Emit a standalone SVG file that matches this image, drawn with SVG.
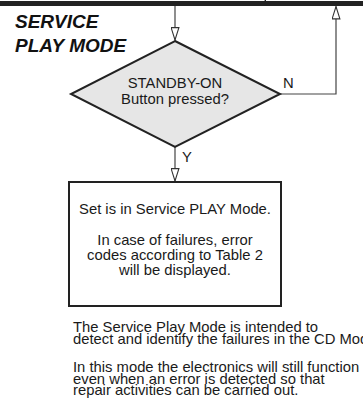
<svg xmlns="http://www.w3.org/2000/svg" width="363" height="415" viewBox="0 0 363 415">
  <style>
    .txt { font-family: "Liberation Sans", Arial, Helvetica, sans-serif; font-size: 14.8px; fill: #1a1a1a; }
    .mid { text-anchor: middle; }
    .title { font-family: "Liberation Sans", Arial, Helvetica, sans-serif; font-size: 19px; font-weight: bold; font-style: italic; fill: #111; }
    .conn { fill: none; stroke: #444; stroke-width: 1.2; }
    .shape { stroke: #222; stroke-width: 2; }
  </style>
  <defs>
    <marker id="open-arrow" markerUnits="userSpaceOnUse" viewBox="0 0 14 9" markerWidth="14" markerHeight="9" refX="13" refY="4.5" orient="auto">
      <path d="M0.6,0.6 L13,4.5 L0.6,8.4 Z" fill="#fff" stroke="#333" stroke-width="1.1"/>
    </marker>
  </defs>

  <rect width="363" height="415" fill="#fff"/>

  <!-- flow bus along the top edge -->
  <g id="bus">
    <rect x="0" y="1" width="363" height="5" fill="#222"/>
    <rect x="264.6" y="0" width="1.4" height="2" fill="#222"/>
  </g>

  <g id="title">
    <text class="title" x="15" y="28">SERVICE</text>
    <text class="title" x="15" y="52">PLAY MODE</text>
  </g>

  <g id="connectors">
    <path class="conn" d="M175,6 V40" marker-end="url(#open-arrow)"/>
    <path class="conn" d="M280,94 H336 V6.5" marker-end="url(#open-arrow)"/>
    <path class="conn" d="M175,147 V181" marker-end="url(#open-arrow)"/>
    <text class="txt" x="283" y="88">N</text>
    <text class="txt" x="182" y="162">Y</text>
  </g>

  <g id="standby-decision">
    <polygon class="shape" points="175,41 280,94 175,147 71,94" fill="#e6e6e6"/>
    <text class="txt mid" x="175" y="88">STANDBY-ON</text>
    <text class="txt mid" x="175" y="104">Button pressed?</text>
  </g>

  <g id="service-play-state">
    <rect class="shape" x="69" y="182" width="212" height="124" fill="#fff"/>
    <text class="txt mid" x="175" y="214">Set is in Service PLAY Mode.</text>
    <text class="txt mid" x="175" y="245">In case of failures, error</text>
    <text class="txt mid" x="175" y="260">codes according to Table 2</text>
    <text class="txt mid" x="175" y="275">will be displayed.</text>
  </g>

  <g id="notes">
    <text class="txt"><tspan x="73" y="332">The Service Play Mode is intended to</tspan><tspan x="73" y="343.5">detect and identify the failures in the CD Mod</tspan></text>
    <text class="txt"><tspan x="73" y="372">In this mode the electronics will still function</tspan><tspan x="73" y="383.5">even when an error is detected so that</tspan><tspan x="73" y="395">repair activities can be carried out.</tspan></text>
  </g>
</svg>
